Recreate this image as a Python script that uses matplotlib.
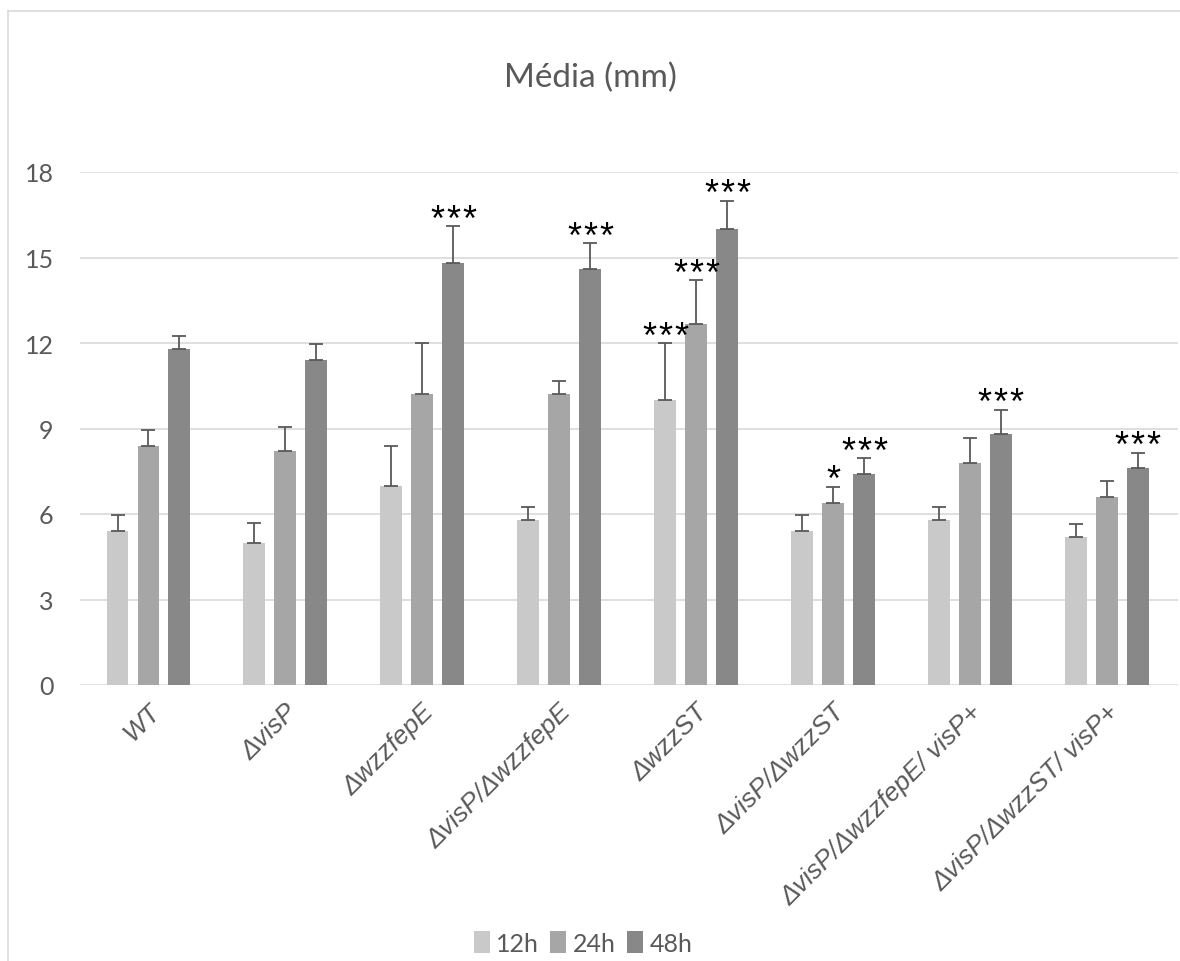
import numpy as np
import matplotlib
matplotlib.use("Agg")
import matplotlib.pyplot as plt
from matplotlib.lines import Line2D
from matplotlib.patches import Patch
import matplotlib.transforms as mtransforms

# Strains (x categories)
strains = ["WT", "ΔvisP", "ΔwzzfepE", "ΔvisP/ΔwzzfepE", "ΔwzzST",
           "ΔvisP/ΔwzzST", "ΔvisP/ΔwzzfepE/ visP+", "ΔvisP/ΔwzzST/ visP+"]
times = ["12h", "24h", "48h"]

# Mean swarming diameter (mm) and upper error
mean_12 = [5.4, 5.0, 7.0, 5.8, 10.0, 5.4, 5.8, 5.2]
mean_24 = [8.4, 8.2, 10.2, 10.2, 12.65, 6.4, 7.8, 6.6]
mean_48 = [11.8, 11.4, 14.8, 14.6, 16.0, 7.4, 8.8, 7.6]
err_12 = [0.55, 0.7, 1.4, 0.45, 2.0, 0.55, 0.45, 0.45]
err_24 = [0.55, 0.85, 1.8, 0.45, 1.55, 0.55, 0.85, 0.55]
err_48 = [0.45, 0.55, 1.3, 0.9, 1.0, 0.55, 0.85, 0.55]

# Number of significance stars per series
sig_12 = [0, 0, 0, 0, 3, 0, 0, 0]
sig_24 = [0, 0, 0, 0, 3, 1, 0, 0]
sig_48 = [0, 0, 3, 3, 3, 3, 3, 3]

means = [mean_12, mean_24, mean_48]
errs = [err_12, err_24, err_48]
sigs = [sig_12, sig_24, sig_48]
colors = ["#c9c9c9", "#a6a6a6", "#888888"]
txt = "#595959"

fig = plt.figure(figsize=(11.8, 9.62), dpi=100)
ax = fig.add_axes([80 / 1180, 1 - 686 / 962, (1178 - 80) / 1180, (686 - 173) / 962])

x = np.arange(len(strains))
width = 0.16
step = 0.226
star_pitch = 11.5  # points between spaced-out asterisks
for i, (m, e, s, c) in enumerate(zip(means, errs, sigs, colors)):
    xi = x + (i - 1) * step
    ax.bar(xi, m, width, color=c, zorder=2)
    ax.errorbar(xi, m, yerr=[np.zeros(len(e)), e], fmt="none",
                ecolor=txt, elinewidth=1.3, capsize=5, capthick=1.3, zorder=3)
    for xx, mm, ee, n in zip(xi, m, e, s):
        for k in range(n):
            dx = (k - (n - 1) / 2) * star_pitch
            ax.annotate("*", (xx, mm + ee), xytext=(dx, -2.5), textcoords="offset points",
                        ha="center", va="baseline", fontsize=26,
                        family="Liberation Sans", color="black")

ax.set_ylim(0, 18)
ax.set_xlim(-0.5, 7.52)
ax.set_yticks(np.arange(0, 19, 3))
ax.yaxis.grid(True, color="#d9d9d9", linewidth=1.2, zorder=0)
ax.set_axisbelow(True)
for sp in ax.spines.values():
    sp.set_visible(False)
ax.tick_params(axis="y", length=0, pad=19, labelsize=18, labelcolor=txt)
for lab in ax.get_yticklabels():
    lab.set_family("Lato")

ax.set_xticks(x)
ax.set_xticklabels(strains, rotation=45, ha="right", va="center",
                   rotation_mode="anchor", fontsize=19, style="italic",
                   family="Liberation Sans", color=txt)
ax.tick_params(axis="x", length=0, pad=16)
offset = mtransforms.ScaledTranslation(8 / 100, 0, fig.dpi_scale_trans)
for lab in ax.get_xticklabels():
    lab.set_transform(lab.get_transform() + offset)

fig.text(0.5, 1 - 78 / 962, "Média (mm)", ha="center", va="center",
         fontsize=24, family="Lato", color=txt)

handles = [Patch(facecolor=c, edgecolor="none") for c in colors]
fig.legend(handles, times, loc="center", bbox_to_anchor=(0.494, 1 - 944 / 962),
           ncol=3, frameon=False, handlelength=0.65, handleheight=0.95,
           handletextpad=0.25, columnspacing=0.45, labelcolor=txt,
           prop={"family": "Lato", "size": 18})

# outer chart frame
fig.add_artist(Line2D([8 / 1180, 1], [1 - 12 / 962] * 2, color="#d9d9d9", lw=1.2))
fig.add_artist(Line2D([8 / 1180] * 2, [0, 1 - 12 / 962], color="#d9d9d9", lw=1.2))

fig.savefig("out.png", dpi=100, facecolor="white")
